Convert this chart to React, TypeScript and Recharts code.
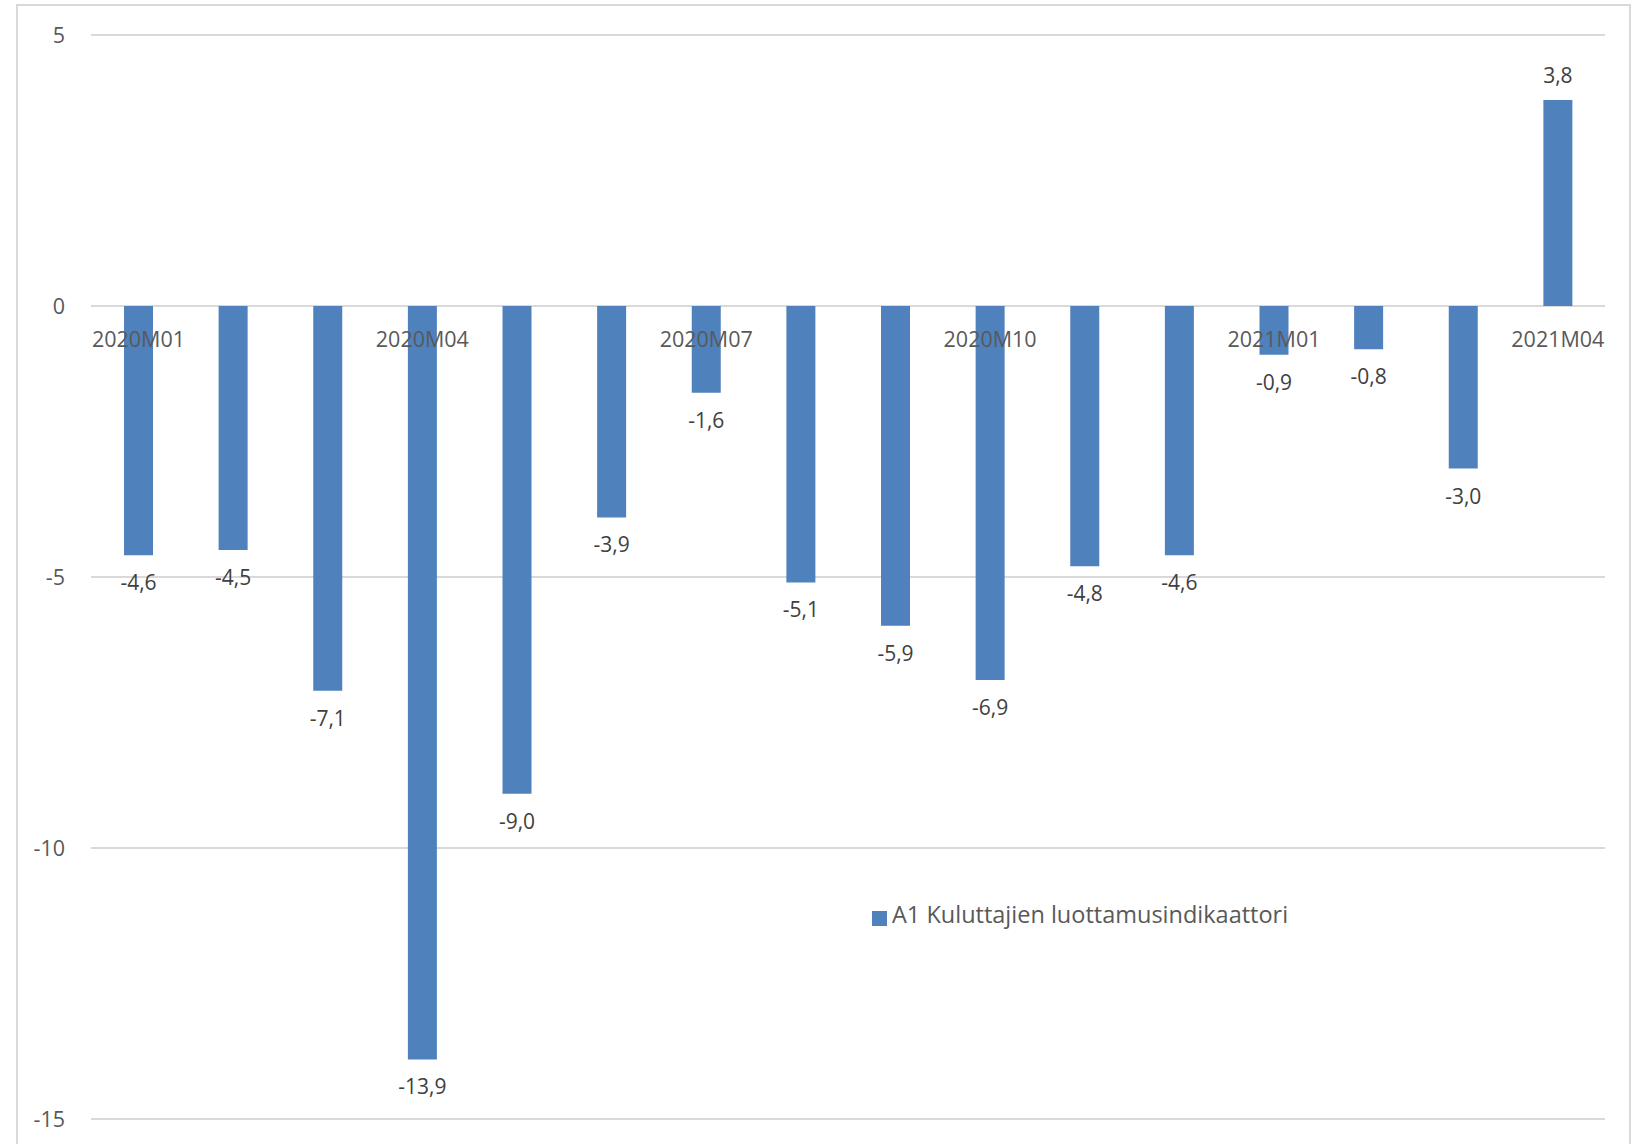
import React from "react";
import { BarChart, Bar, XAxis, YAxis, CartesianGrid, Legend, LabelList } from "recharts";

// Kuukaudet ja indikaattorin arvot
const months = [
  "2020M01", "2020M02", "2020M03", "2020M04", "2020M05", "2020M06",
  "2020M07", "2020M08", "2020M09", "2020M10", "2020M11", "2020M12",
  "2021M01", "2021M02", "2021M03", "2021M04",
];
const values = [-4.6, -4.5, -7.1, -13.9, -9.0, -3.9, -1.6, -5.1, -5.9, -6.9, -4.8, -4.6, -0.9, -0.8, -3.0, 3.8];
const yTicks = [5, 0, -5, -10, -15];
const seriesName = "A1 Kuluttajien luottamusindikaattori";

const data = months.map((m, i) => ({ month: m, value: values[i] }));

const FONT = "'Open Sans', sans-serif";
const TEXT = "#595959";
const BLUE = "#4F81BD";

const fmt = (v: number) => v.toFixed(1).replace(".", ",");

// kategorian nimi nollaviivan alle, joka kolmas kuukausi
const MonthLabel = (props: any) => {
  const { x, y, width, height, index } = props;
  if (index % 3 !== 0) return null;
  const zeroY = y + height;
  return (
    <text x={x + width / 2} y={zeroY + 41} textAnchor="middle" fill={TEXT} fontSize={21.5} fontFamily={FONT}>
      {months[index]}
    </text>
  );
};

const ValueLabel = (props: any) => {
  const { x, y, width, height, value } = props;
  const zeroY = y + height;
  const neg = value < 0;
  const endY = neg ? Math.max(y, zeroY) : Math.min(y, zeroY);
  return (
    <text
      x={x + width / 2}
      y={neg ? endY + 35 : endY - 17}
      textAnchor="middle"
      fill="#404040"
      fontSize={21}
      fontFamily={FONT}
    >
      {fmt(value)}
    </text>
  );
};

export default function App() {
  return (
    <div
      style={{
        position: "absolute",
        left: 0,
        top: 0,
        width: 1637,
        height: 1144,
        background: "#fff",
        overflow: "hidden",
        fontFamily: FONT,
      }}
    >
      <div
        style={{
          position: "absolute",
          left: 16,
          top: 4,
          width: 1611,
          height: 1200,
          border: "2px solid #D9D9D9",
        }}
      />
      <div style={{ position: "absolute", left: 0, top: 0 }}>
        <BarChart
          width={1637}
          height={1144}
          data={data}
          margin={{ top: 35, right: 32, bottom: 25, left: 0 }}
        >
          <CartesianGrid vertical={false} stroke="#D9D9D9" strokeWidth={2} />
          <XAxis dataKey="month" hide />
          <YAxis
            domain={[-15, 5]}
            ticks={yTicks}
            width={91}
            axisLine={false}
            tickLine={false}
            tickSize={0}
            tickMargin={26}
            tick={{ fill: TEXT, fontSize: 21.5, fontFamily: FONT }}
          />
          <Legend
            layout="vertical"
            verticalAlign="middle"
            align="center"
            iconType="square"
            iconSize={15}
            wrapperStyle={{ position: "absolute", left: 872, top: 898, width: "auto", margin: 0 }}
            formatter={(v: string) => (
              <span style={{ color: TEXT, fontSize: 23.5, fontFamily: FONT, marginLeft: 1 }}>{v}</span>
            )}
          />
          <Bar dataKey="value" name={seriesName} fill={BLUE} barSize={29} isAnimationActive={false}>
            <LabelList dataKey="value" content={<ValueLabel />} />
            <LabelList dataKey="month" content={<MonthLabel />} />
          </Bar>
        </BarChart>
      </div>
    </div>
  );
}
